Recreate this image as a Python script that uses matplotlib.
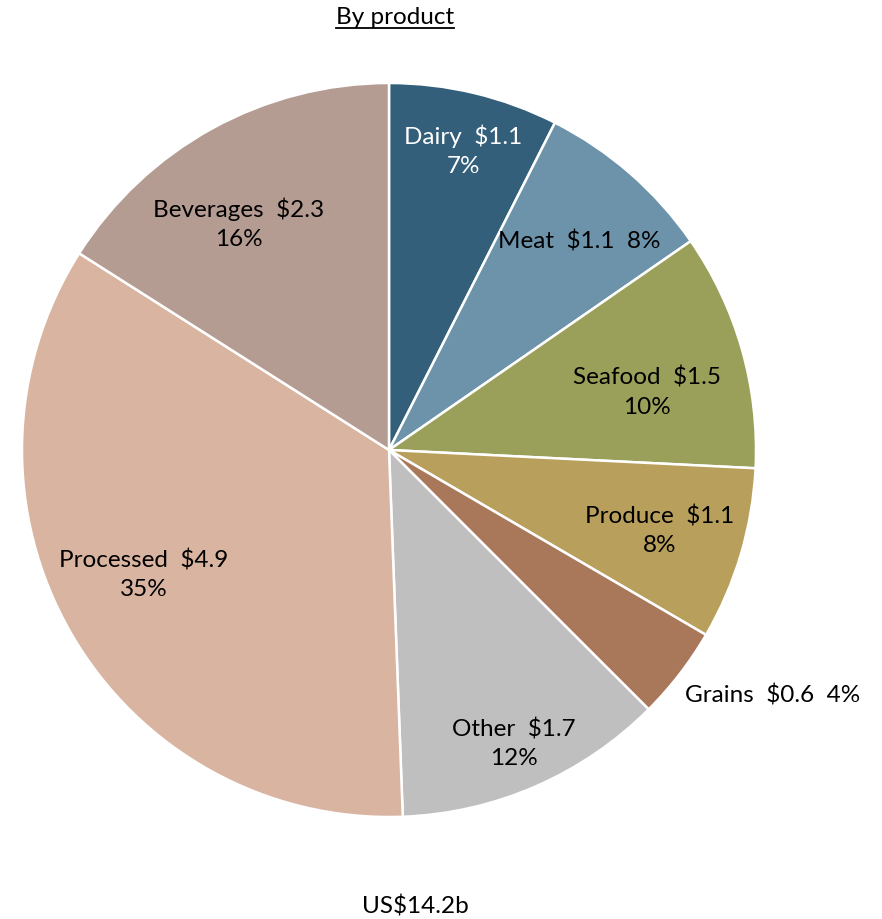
import matplotlib
matplotlib.use("Agg")
import matplotlib.pyplot as plt
import numpy as np
from matplotlib.lines import Line2D

plt.rcParams['font.family'] = ['Lato', 'DejaVu Sans']

# Sales by product, US$ billions (clockwise from 12 o'clock)
categories = ["Dairy", "Meat", "Seafood", "Produce", "Grains", "Other", "Processed", "Beverages"]
values = [1.06, 1.12, 1.48, 1.08, 0.58, 1.69, 4.91, 2.27]
colors = ["#335F7A", "#6C93AA", "#9AA05A", "#B89F5C", "#A9775A", "#BFBFBF", "#D8B4A1", "#B59C93"]
label_colors = ["white", "black", "black", "black", "black", "black", "black", "black"]
# label layout: radial distance (fraction of radius), clockwise angle offset (deg),
# and whether value & share sit on one line
label_radius = [0.84, 0.77, 0.72, 0.77, 1.24, 0.87, 0.75, 0.74]
label_angle_shift = [0.5, 1.3, 3.3, 0.0, -5.0, 0.5, 2.9, -4.8]
single_line = [False, True, False, False, True, False, False, False]

W, H, DPI = 882, 919, 100
fig = plt.figure(figsize=(W / DPI, H / DPI), dpi=DPI)

cx, cy, r = 389, 450, 367
ax = fig.add_axes([(cx - r) / W, (H - cy - r) / H, 2 * r / W, 2 * r / H])

wedges, _ = ax.pie(values, colors=colors, startangle=90, counterclock=False,
                   radius=1.0, wedgeprops=dict(edgecolor="white", linewidth=1.8))
ax.set_xlim(-1, 1)
ax.set_ylim(-1, 1)
ax.set_aspect("equal")
ax.axis("off")

total = sum(values)
fs = 17.5
for w, name, v, rad, shift, one, tc in zip(wedges, categories, values, label_radius,
                                           label_angle_shift, single_line, label_colors):
    mid = np.deg2rad((w.theta1 + w.theta2) / 2 - shift)
    x, y = rad * np.cos(mid), rad * np.sin(mid)
    pct = f"{round(100 * v / total)}%"
    sep = "  " if one else "\n"
    ax.text(x, y, f"{name}  ${v:.1f}{sep}{pct}", ha="center", va="center",
            fontsize=fs, color=tc, linespacing=1.45)

title = fig.text(395 / W, 1 - 18 / H, "By product", ha="center", va="center", fontsize=fs)
fig.text(415 / W, 1 - 906 / H, f"US${total:.1f}b", ha="center", va="center", fontsize=fs)

# underline the heading
fig.canvas.draw()
bb = title.get_window_extent(renderer=fig.canvas.get_renderer())
bbf = bb.transformed(fig.transFigure.inverted())
fig.add_artist(Line2D([bbf.x0, bbf.x1], [bbf.y0 + 1 / H, bbf.y0 + 1 / H],
                      transform=fig.transFigure, color="black", linewidth=1.3))

fig.savefig("out.png", dpi=DPI)
